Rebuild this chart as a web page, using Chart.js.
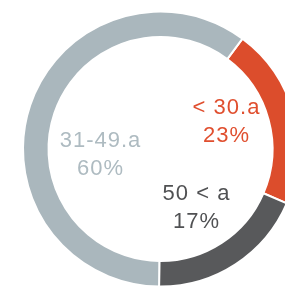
<!DOCTYPE html>
<html>
<head>
<meta charset="utf-8">
<script src="https://cdn.jsdelivr.net/npm/chart.js@4.4.1/dist/chart.umd.min.js"></script>
<style>
    html, body { margin: 0; padding: 0; background: #fff; overflow: hidden; width: 285px; height: 287px; }
    #ageChart { position: absolute; left: 0; top: 0; }
</style>
</head>
<body>
<canvas id="ageChart" width="321" height="298"></canvas>
<script>
// Age groups, in drawing order (clockwise from the top-right split)
const categories = ['< 30.a', '50 < a', '31-49.a'];
const shares = [21.3, 18.7, 60];
const shareLabels = ['23%', '17%', '60%'];
const colors = ['#dc4d2c', '#58595b', '#aab7bd'];
const labelColors = ['#e04f2f', '#505153', '#aebbc1'];

// Label block offsets from the chart centre
const labelOffsets = [[66, -27], [36, 59], [-60, 6]];

// Draw the category name and share inside the ring
const ringLabels = {
    id: 'ringLabels',
    afterDatasetsDraw(chart) {
        const arc = chart.getDatasetMeta(0).data[0];
        const ctx = chart.ctx;
        ctx.save();
        ctx.font = '22px "Liberation Sans", Arial, sans-serif';
        ctx.letterSpacing = '1px';
        ctx.textAlign = 'center';
        ctx.textBaseline = 'middle';
        categories.forEach((name, i) => {
            const x = arc.x + labelOffsets[i][0];
            const y = arc.y + labelOffsets[i][1];
            ctx.fillStyle = labelColors[i];
            ctx.fillText(name, x, y - 14);
            ctx.fillText(shareLabels[i], x, y + 14);
        });
        ctx.restore();
    }
};

new Chart(document.getElementById('ageChart'), {
    type: 'doughnut',
    data: {
        labels: categories,
        datasets: [{
            data: shares,
            backgroundColor: colors,
            borderColor: '#ffffff',
            borderWidth: 2,
        }],
    },
    options: {
        responsive: false,
        devicePixelRatio: 1,
        animation: false,
        rotation: 36.6,
        radius: 137.5,
        cutout: '81.45%',
        layout: { padding: 0 },
        events: [],
        plugins: {
            legend: { display: false },
            tooltip: { enabled: false },
        },
    },
    plugins: [ringLabels],
});
</script>
</body>
</html>
